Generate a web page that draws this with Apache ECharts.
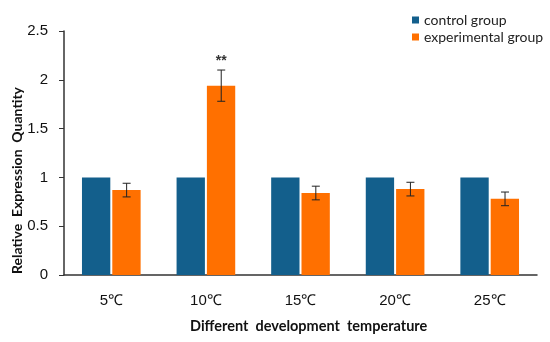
<!DOCTYPE html>
<html><head><meta charset="utf-8">
<script src="https://cdn.jsdelivr.net/npm/echarts@6/dist/echarts.min.js"></script>
<style>html,body{margin:0;padding:0;background:#fff}#c{width:550px;height:342px}</style>
</head><body><div id="c"></div>
<script>
var categories = ['5℃', '10℃', '15℃', '20℃', '25℃'];
var controlValues = [1, 1, 1, 1, 1];
var experimentalValues = [0.87, 1.94, 0.84, 0.88, 0.78];
var experimentalErrors = [0.07, 0.16, 0.07, 0.07, 0.07];
var significance = ['', '**', '', '', ''];
var yTicks = [0, 0.5, 1, 1.5, 2, 2.5];

var chart = echarts.init(document.getElementById('c'));
var errData = experimentalValues.map(function (v, i) {
  return [i, v - experimentalErrors[i], v + experimentalErrors[i], significance[i]];
});
chart.setOption({
  animation: false,
  grid: {left: 64, right: 13, top: 31, bottom: 67},
  legend: {
    orient: 'vertical', left: 407, top: 8, itemWidth: 7, itemHeight: 7, itemGap: 3, icon: 'rect',
    textStyle: {fontFamily: 'Lato', fontSize: 14, color: '#222'},
    data: ['control group', 'experimental group']
  },
  xAxis: {
    type: 'category', data: categories,
    axisLine: {lineStyle: {color: '#333', width: 1.5}},
    axisTick: {show: false},
    axisLabel: {fontFamily: '"Liberation Sans"', fontSize: 15, color: '#111', margin: 18}
  },
  yAxis: {
    type: 'value', min: 0, max: 2.5, interval: 0.5,
    axisLine: {show: true, lineStyle: {color: '#333', width: 1.5}},
    axisTick: {show: true, length: 5, lineStyle: {color: '#333'}},
    splitLine: {show: false},
    axisLabel: {fontFamily: '"Liberation Sans"', fontSize: 15, color: '#111', margin: 16,
      formatter: function (v) { return yTicks.indexOf(v) >= 0 ? String(v) : ''; }}
  },
  graphic: [
    {type: 'text', left: 190, top: 319, style: {text: 'Different  development  temperature', font: 'bold 14.5px Lato', fill: '#111'}},
    {type: 'text', x: 10, y: 274, rotation: Math.PI / 2, style: {text: 'Relative  Expression  Quantity', font: 'bold 14px Lato', fill: '#111'}}
  ],
  series: [
    {name: 'control group', type: 'bar', data: controlValues, barGap: '7%', barCategoryGap: '38%',
      itemStyle: {color: '#135F8C'}},
    {name: 'experimental group', type: 'bar', data: experimentalValues,
      itemStyle: {color: '#FF7000'}},
    {type: 'custom', name: 'err', z: 10,
      renderItem: function (params, api) {
        var i = api.value(0);
        var lo = api.coord([i, api.value(1)]);
        var hi = api.coord([i, api.value(2)]);
        var bw = api.size([1, 0])[0];
        var x = lo[0] + bw * 0.162;
        var cap = 4;
        var children = [
          {type: 'line', shape: {x1: x, y1: lo[1], x2: x, y2: hi[1]}, style: {stroke: '#222', lineWidth: 1}},
          {type: 'line', shape: {x1: x - cap, y1: lo[1], x2: x + cap, y2: lo[1]}, style: {stroke: '#222', lineWidth: 1}},
          {type: 'line', shape: {x1: x - cap, y1: hi[1], x2: x + cap, y2: hi[1]}, style: {stroke: '#222', lineWidth: 1}}
        ];
        var s = api.value(3);
        if (s) {
          children.push({type: 'text', style: {text: s, x: x, y: hi[1] - 2, align: 'center', verticalAlign: 'bottom',
            font: 'bold 14px "Liberation Sans"', fill: '#333'}});
        }
        return {type: 'group', children: children};
      },
      encode: {x: 0, y: [1, 2]},
      data: errData
    }
  ]
});
</script></body></html>
